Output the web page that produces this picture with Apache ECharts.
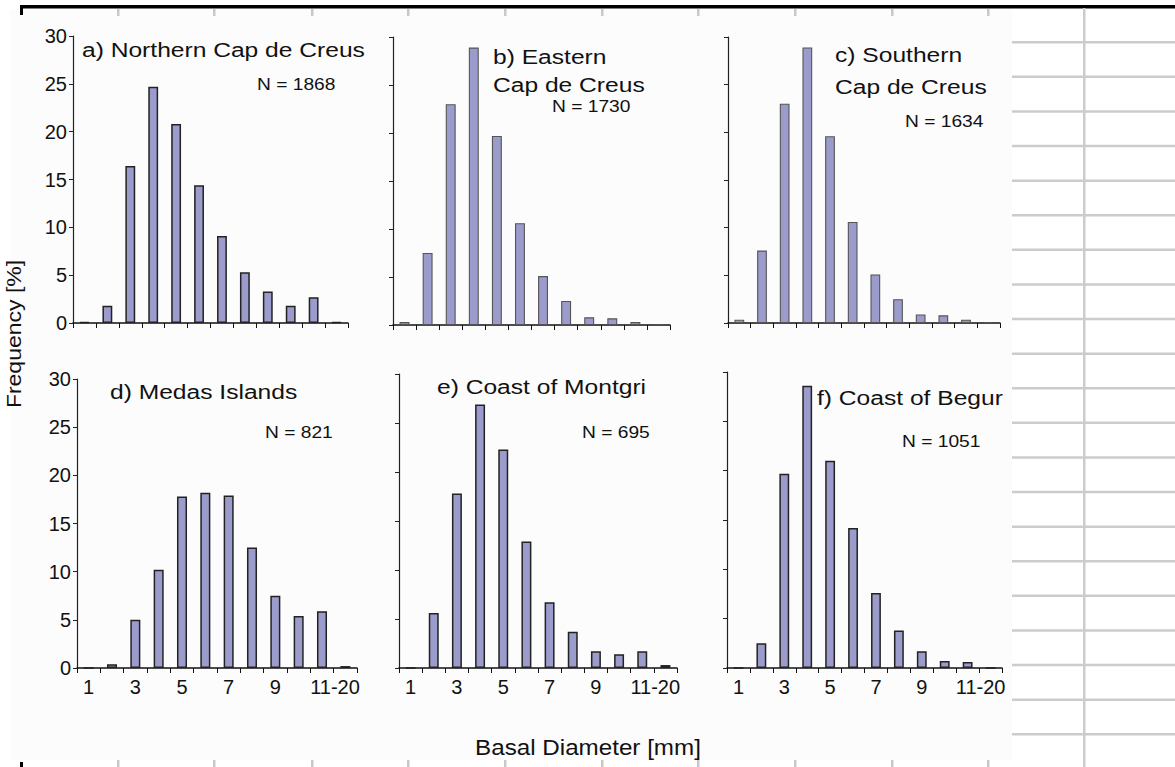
<!DOCTYPE html>
<html>
<head>
<meta charset="utf-8">
<title>Basal Diameter frequency distributions</title>
<script src="https://cdn.jsdelivr.net/npm/echarts@6/dist/echarts.min.js"></script>
<style>
  html, body { margin: 0; padding: 0; background: #ffffff; }
  #chart { width: 1175px; height: 767px; }
</style>
</head>
<body>
<div id="chart"></div>
<script>
// Size classes of basal diameter (mm)
const categories = ['1', '2', '3', '4', '5', '6', '7', '8', '9', '10', '11-20', '>20'];
// Frequency (%) per size class for each site
const northernCapDeCreus = [0.1, 1.8, 16.4, 24.7, 20.8, 14.4, 9.1, 5.3, 3.3, 1.8, 2.7, 0.1];
const easternCapDeCreus  = [0.3, 7.5, 23.0, 28.9, 19.7, 10.6, 5.1, 2.5, 0.8, 0.7, 0.3, 0.1];
const southernCapDeCreus = [0.35, 7.6, 23.0, 28.9, 19.6, 10.6, 5.1, 2.5, 0.9, 0.8, 0.35, 0.1];
const medasIslands       = [0, 0.4, 5.0, 10.2, 17.8, 18.2, 17.9, 12.5, 7.5, 5.4, 5.9, 0.2];
const coastOfMontgri     = [0, 5.6, 17.8, 26.9, 22.3, 12.9, 6.7, 3.7, 1.7, 1.4, 1.7, 0.3];
const coastOfBegur       = [0, 2.5, 19.7, 28.6, 21.0, 14.2, 7.6, 3.8, 1.7, 0.7, 0.6, 0];
// Panel headings and sample sizes
const panelTitles = [
  ['a) Northern Cap de Creus'],
  ['b) Eastern', 'Cap de Creus'],
  ['c) Southern', 'Cap de Creus'],
  ['d) Medas Islands'],
  ['e) Coast of Montgri'],
  ['f) Coast of Begur']
];
const sampleSizes = [1868, 1730, 1634, 821, 695, 1051];
// Frequency axis ticks
const yMin = 0, yMax = 30, yStep = 5;

const FONT = '"Liberation Sans", Arial, Helvetica, sans-serif';
const seriesData = [northernCapDeCreus, easternCapDeCreus, southernCapDeCreus,
                    medasIslands, coastOfMontgri, coastOfBegur];

// Plot rectangles of the six panels
const panels = [
  { left: 73,  top: 36,  width: 275, height: 287, border: '#222', bw: 1.5 },
  { left: 393, top: 37,  width: 277, height: 288, border: '#555', bw: 1.1 },
  { left: 728, top: 37,  width: 272, height: 286, border: '#555', bw: 1.1 },
  { left: 77,  top: 379, width: 280, height: 289, border: '#222', bw: 1.5 },
  { left: 399, top: 374, width: 278, height: 294, border: '#222', bw: 1.5 },
  { left: 727, top: 372, width: 275, height: 296, border: '#222', bw: 1.5 }
];
// Heading / N label anchors (left edge, vertical centre)
const textPos = [
  { t: [[82, 50]],             n: [257, 85] },
  { t: [[493, 57], [493, 85]], n: [552, 107] },
  { t: [[835, 55], [835, 87]], n: [905, 122] },
  { t: [[110, 392]],           n: [265, 433] },
  { t: [[437, 387]],           n: [582, 433] },
  { t: [[817, 398]],           n: [902, 442] }
];

const grid = [], xAxis = [], yAxis = [], series = [];
panels.forEach(function (p, i) {
  const bottomRow = i >= 3;
  const firstCol = i === 0 || i === 3;
  grid.push({ left: p.left, top: p.top, width: p.width, height: p.height,
              containLabel: false, outerBoundsMode: 'none' });
  xAxis.push({
    type: 'category', gridIndex: i, data: categories, boundaryGap: true,
    axisLine: { show: true, lineStyle: { color: '#111', width: 1.5 } },
    axisTick: { show: true, interval: 0, length: 5, inside: false, lineStyle: { color: '#111', width: 1 } },
    axisLabel: {
      show: bottomRow, interval: function (idx) { return idx % 2 === 0 && idx <= 10; },
      color: '#111', fontFamily: FONT, fontSize: 20, margin: 9,
      formatter: function (v, idx) { return idx === 10 ? '{r|' + v + '}' : v; },
      rich: { r: { color: '#111', fontFamily: FONT, fontSize: 20, padding: [0, 0, 0, 26] } }
    },
    splitLine: { show: false }
  });
  yAxis.push({
    type: 'value', gridIndex: i, min: yMin, max: yMax, interval: yStep,
    axisLine: { show: true, lineStyle: { color: '#222', width: 1.2 } },
    axisTick: { show: true, length: 4, inside: false, lineStyle: { color: '#222', width: 1 } },
    axisLabel: { show: firstCol, color: '#111', fontFamily: FONT, fontSize: 20, margin: 6 },
    splitLine: { show: false }
  });
  series.push({
    type: 'bar', xAxisIndex: i, yAxisIndex: i, data: seriesData[i],
    barWidth: '43%',
    itemStyle: { color: '#9b9bcc', borderColor: p.border, borderWidth: p.bw },
    emphasis: { disabled: true }
  });
});

// Worksheet decorations around the chart object
const graphic = [];
graphic.push({ type: 'rect', z: -100, shape: { x: 10, y: 9, width: 1002, height: 751 },
               style: { fill: '#fcfcfc' } });
graphic.push({ type: 'rect', z: 50, shape: { x: 20, y: 5, width: 1155, height: 3.5 }, style: { fill: '#000' } });
graphic.push({ type: 'rect', z: 50, shape: { x: 20, y: 5, width: 3, height: 10 }, style: { fill: '#000' } });
graphic.push({ type: 'rect', z: 50, shape: { x: 20, y: 762, width: 3, height: 5 }, style: { fill: '#000' } });
const colMarks = [117, 213, 311, 407, 504, 601, 697, 794, 891, 987];
colMarks.forEach(function (x) {
  graphic.push({ type: 'rect', z: 50, shape: { x: x, y: 9, width: 2.5, height: 7 }, style: { fill: '#c8c8c8' } });
  graphic.push({ type: 'rect', z: 50, shape: { x: x, y: 760, width: 2.5, height: 7 }, style: { fill: '#c8c8c8' } });
});
graphic.push({ type: 'rect', z: 50, shape: { x: 1083, y: 8, width: 2.5, height: 759 }, style: { fill: '#cccccc' } });
for (let k = 0; k < 21; k++) {
  const y = 41 + k * 34.6;
  graphic.push({ type: 'rect', z: 50, shape: { x: 1012, y: y, width: 163, height: 2.5 }, style: { fill: '#cccccc' } });
}

// Panel headings and sample sizes
panelTitles.forEach(function (lines, i) {
  lines.forEach(function (line, j) {
    const pos = textPos[i].t[j];
    graphic.push({ type: 'text', z: 100, x: pos[0], y: pos[1], scaleX: 1.23,
      style: { text: line, fill: '#111', font: '20px ' + FONT, textAlign: 'left', textVerticalAlign: 'middle' } });
  });
  const np = textPos[i].n;
  graphic.push({ type: 'text', z: 100, x: np[0], y: np[1], scaleX: 1.2,
    style: { text: 'N = ' + sampleSizes[i], fill: '#111', font: '16px ' + FONT, textAlign: 'left', textVerticalAlign: 'middle' } });
});

// Shared axis titles
graphic.push({ type: 'text', z: 100, x: 588, y: 747, scaleX: 1.1,
  style: { text: 'Basal Diameter [mm]', fill: '#111', font: '22px ' + FONT, textAlign: 'center', textVerticalAlign: 'middle' } });
graphic.push({ type: 'text', z: 100, x: 24, y: 334, rotation: Math.PI / 2, scaleX: 1.15,
  style: { text: 'Frequency [%]', fill: '#111', font: '20px ' + FONT, textAlign: 'center', textVerticalAlign: 'bottom' } });

const chart = echarts.init(document.getElementById('chart'), null, { renderer: 'svg' });
chart.setOption({
  animation: false,
  backgroundColor: '#ffffff',
  grid: grid, xAxis: xAxis, yAxis: yAxis, series: series,
  graphic: graphic
});
</script>
</body>
</html>
